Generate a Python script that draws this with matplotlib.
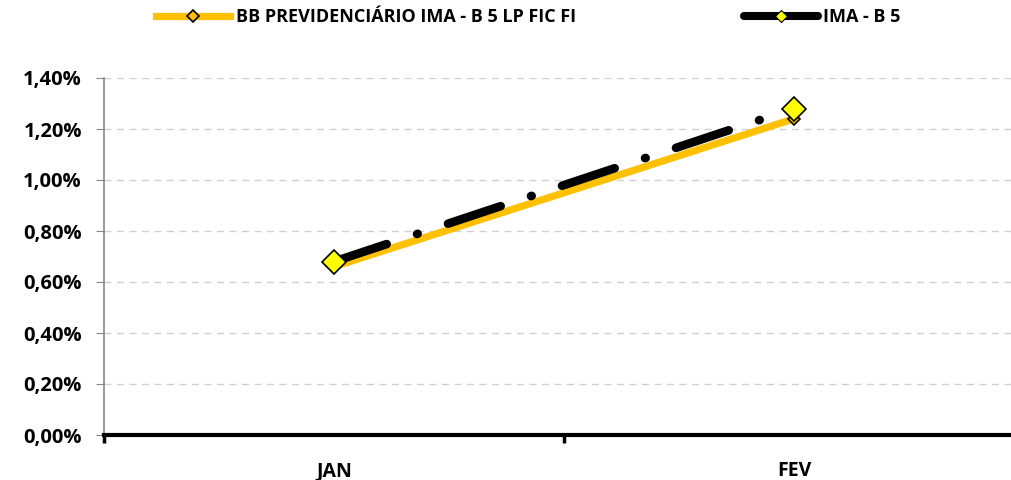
import matplotlib.pyplot as plt
from matplotlib.ticker import FuncFormatter
from matplotlib.lines import Line2D

plt.rcParams['font.family'] = ['Open Sans', 'DejaVu Sans']
plt.rcParams['font.weight'] = 'bold'
plt.rcParams['lines.scale_dashes'] = False

meses = ['JAN', 'FEV']
fundo = [0.66, 1.24]   # BB PREVIDENCIÁRIO IMA - B 5 LP FIC FI (%)
indice = [0.68, 1.28]  # IMA - B 5 (%)
yticks = [0.0, 0.2, 0.4, 0.6, 0.8, 1.0, 1.2, 1.4]

laranja = '#FFC000'
amarelo = '#FFFF00'

fig = plt.figure(figsize=(10.12, 4.8), dpi=100)
ax = fig.add_axes([104 / 1012, 1 - 435 / 480, (1012 - 104) / 1012, (435 - 78) / 480])

x = list(range(len(meses)))
ax.plot(x, fundo, color=laranja, lw=5.2, solid_capstyle='butt', zorder=3,
        marker='D', ms=6, mfc=laranja, mec='black', mew=1.2)
ax.plot(x, indice, color='black', lw=6.2, dash_capstyle='round', zorder=4,
        ls=(0, (40, 23, 0.5, 23)),
        marker='D', ms=12, mfc=amarelo, mec='black', mew=1.2)

ax.set_xlim(-0.5, 1.474)
ax.set_ylim(0, 1.4)
ax.set_yticks(yticks)
ax.yaxis.set_major_formatter(FuncFormatter(lambda v, p: f'{v:.2f}%'.replace('.', ',')))
ax.set_xticks(x)
ax.set_xticklabels(meses)
ax.set_xticks([-0.5, 0.5], minor=True)
ax.tick_params(axis='x', which='major', length=0, pad=19, labelsize=14)
ax.tick_params(axis='x', which='minor', length=6, width=2.5, color='black')
ax.tick_params(axis='y', length=6, color='#888888', labelsize=14.5, pad=10)

ax.grid(axis='y', color='#d0d0d0', ls=(0, (5, 4)), lw=1)
ax.set_axisbelow(True)
for s in ['top', 'right']:
    ax.spines[s].set_visible(False)
ax.spines['left'].set_color('#888888')
ax.spines['left'].set_linewidth(1.2)
ax.spines['bottom'].set_color('black')
ax.spines['bottom'].set_linewidth(3)
ax.spines['bottom'].set_zorder(5)

h1 = Line2D([], [], color=laranja, lw=5.2, marker='D', ms=6, mfc=laranja, mec='black', mew=1.2)
h2 = Line2D([], [], color='black', lw=5.8, solid_capstyle='round', marker='D', ms=6, mfc=amarelo, mec='black', mew=0.8)
fig.legend([h1, h2], ['BB PREVIDENCIÁRIO IMA - B 5 LP FIC FI', 'IMA - B 5'],
           loc='center', bbox_to_anchor=(0.522, 1 - 17 / 480), ncol=2, frameon=False,
           handlelength=4.1, handletextpad=0.3, columnspacing=9.3, fontsize=13)

fig.savefig('out.png', dpi=100)
